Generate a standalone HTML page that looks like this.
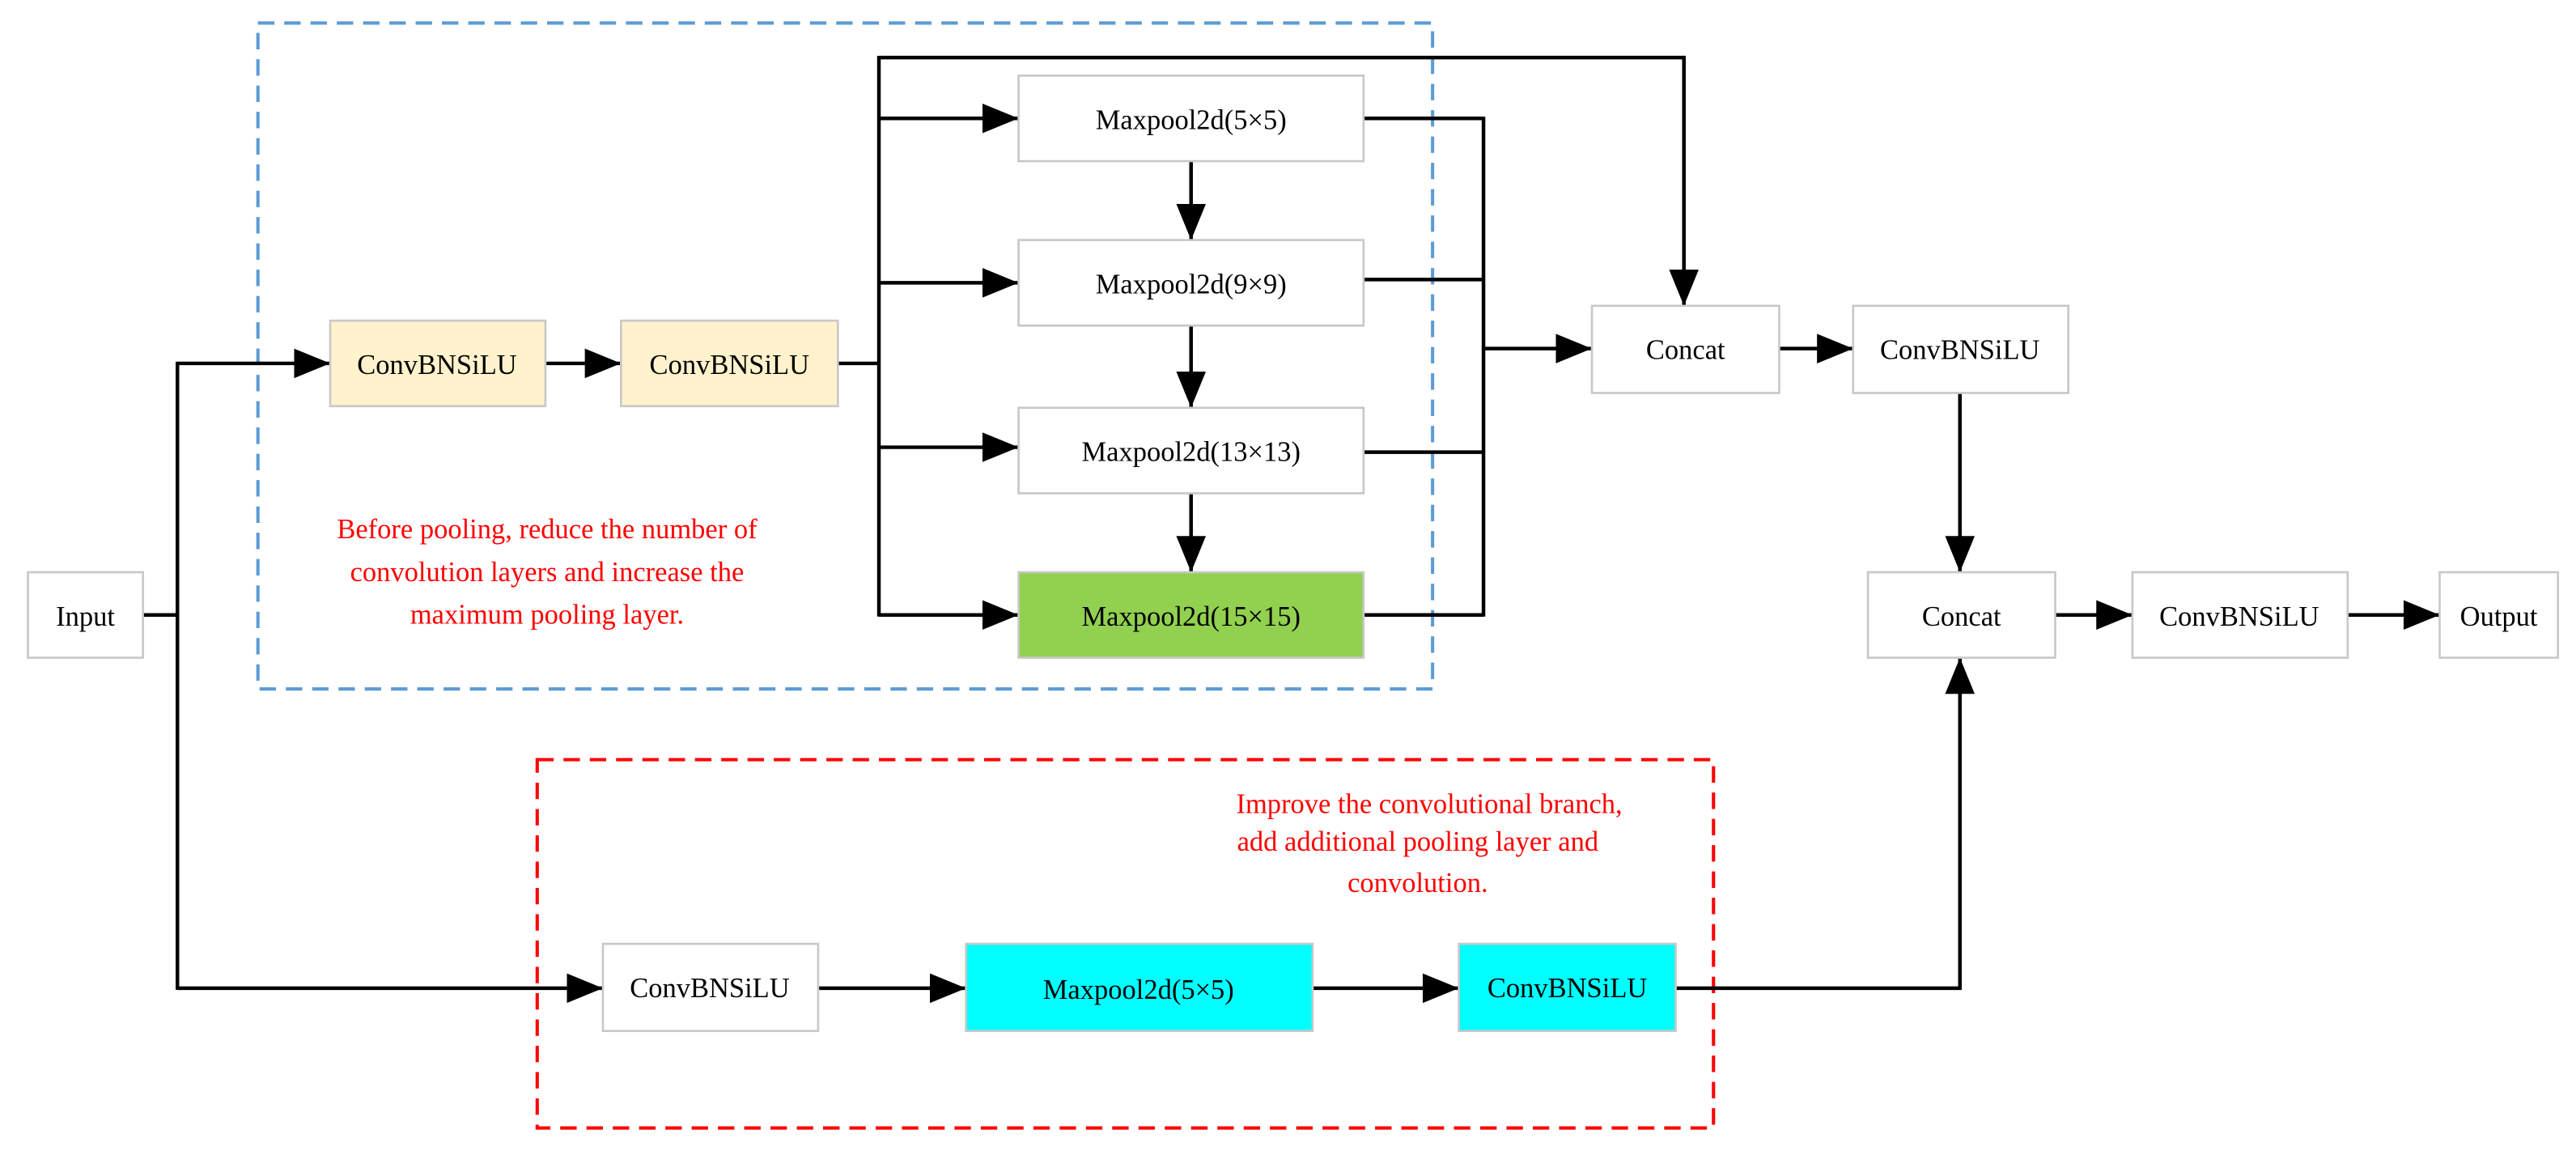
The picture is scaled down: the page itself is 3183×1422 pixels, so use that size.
<!DOCTYPE html>
<html><head><meta charset="utf-8"><style>html,body{margin:0;padding:0;background:#fff}svg{display:block}</style></head><body>
<svg width="3183" height="1422" viewBox="0 0 1568 700" preserveAspectRatio="none" xmlns="http://www.w3.org/2000/svg" font-family="Liberation Serif, serif">
<defs><marker id="a" markerUnits="userSpaceOnUse" markerWidth="22" markerHeight="18" refX="22" refY="9" orient="auto"><path d="M0,0 L22,9 L0,18 z" fill="#000"/></marker></defs>
<rect x="157" y="14" width="715" height="405" fill="none" stroke="#5b9bd5" stroke-width="2" stroke-dasharray="10,6"/>
<rect x="327" y="462" width="716" height="224" fill="none" stroke="#f00" stroke-width="2" stroke-dasharray="10,6"/>
<g fill="none" stroke="#000" stroke-width="2.2">
<path d="M87,374 H108"/><path d="M108,220 V602"/><path d="M108,221 H201" marker-end="url(#a)"/>
<path d="M332,221 H378" marker-end="url(#a)"/>
<path d="M510,221 H535"/><path d="M535,34 V375"/>
<path d="M535,35 H1025 V186" marker-end="url(#a)"/>
<path d="M535,72 H620" marker-end="url(#a)"/><path d="M535,172 H620" marker-end="url(#a)"/>
<path d="M535,272 H620" marker-end="url(#a)"/><path d="M535,374 H620" marker-end="url(#a)"/>
<path d="M725,98 V146" marker-end="url(#a)"/><path d="M725,198 V248" marker-end="url(#a)"/><path d="M725,300 V348" marker-end="url(#a)"/>
<path d="M830,72 H903 M830,170 H903 M830,275 H903 M830,374 H903 M903,71 V375"/>
<path d="M903,212 H969" marker-end="url(#a)"/>
<path d="M1083,212 H1128" marker-end="url(#a)"/>
<path d="M1193,239 V348" marker-end="url(#a)"/>
<path d="M1251,374 H1298" marker-end="url(#a)"/>
<path d="M1429,374 H1485" marker-end="url(#a)"/>
<path d="M108,601 H367" marker-end="url(#a)"/>
<path d="M498,601 H588" marker-end="url(#a)"/>
<path d="M799,601 H888" marker-end="url(#a)"/>
<path d="M1020,601 H1193 V400" marker-end="url(#a)"/>
</g>
<g stroke="#c8c8c8" stroke-width="1.3">
<rect x="17" y="348" width="70" height="52" fill="#fff"/>
<rect x="201" y="195" width="131" height="52" fill="#fff2cc"/>
<rect x="378" y="195" width="132" height="52" fill="#fff2cc"/>
<rect x="620" y="46" width="210" height="52" fill="#fff"/>
<rect x="620" y="146" width="210" height="52" fill="#fff"/>
<rect x="620" y="248" width="210" height="52" fill="#fff"/>
<rect x="620" y="348" width="210" height="52" fill="#92d050"/>
<rect x="969" y="186" width="114" height="53" fill="#fff"/>
<rect x="1128" y="186" width="131" height="53" fill="#fff"/>
<rect x="1137" y="348" width="114" height="52" fill="#fff"/>
<rect x="1298" y="348" width="131" height="52" fill="#fff"/>
<rect x="1485" y="348" width="72" height="52" fill="#fff"/>
<rect x="367" y="574" width="131" height="53" fill="#fff"/>
<rect x="588" y="574" width="211" height="53" fill="#00ffff"/>
<rect x="888" y="574" width="132" height="53" fill="#00ffff"/>
</g>
<g font-size="17" text-anchor="middle" fill="#000" dominant-baseline="central">
<text x="52" y="375">Input</text>
<text x="266" y="222">ConvBNSiLU</text>
<text x="444" y="222">ConvBNSiLU</text>
<text x="725" y="73">Maxpool2d(5×5)</text>
<text x="725" y="173">Maxpool2d(9×9)</text>
<text x="725" y="275">Maxpool2d(13×13)</text>
<text x="725" y="375">Maxpool2d(15×15)</text>
<text x="1026" y="213">Concat</text>
<text x="1193" y="213">ConvBNSiLU</text>
<text x="1194" y="375">Concat</text>
<text x="1363" y="375">ConvBNSiLU</text>
<text x="1521" y="375">Output</text>
<text x="432" y="601">ConvBNSiLU</text>
<text x="693" y="602">Maxpool2d(5×5)</text>
<text x="954" y="601">ConvBNSiLU</text>
</g>
<g font-size="17" text-anchor="middle" fill="#f00" dominant-baseline="central">
<text x="333" y="322">Before pooling, reduce the number of</text>
<text x="333" y="348">convolution layers and increase the</text>
<text x="333" y="374">maximum pooling layer.</text>
<text x="870" y="489">Improve the convolutional branch,</text>
<text x="863" y="512">add additional pooling layer and</text>
<text x="863" y="537">convolution.</text>
</g>
</svg>
</body></html>
